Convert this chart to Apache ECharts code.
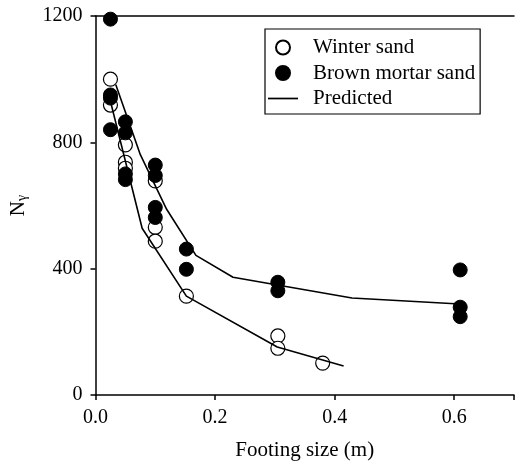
<!DOCTYPE html>
<html>
<head>
<meta charset="utf-8">
<script src="https://cdn.jsdelivr.net/npm/echarts@6/dist/echarts.min.js"></script>
<style>
  html, body { margin: 0; padding: 0; background: #fff; }
  #main { width: 517px; height: 466px; }
</style>
</head>
<body>
<div id="main"></div>
<script>
// measured points, [footing size (m), N_gamma]
const winterSand = [
  [0.025, 1000], [0.025, 918],
  [0.05, 792], [0.05, 737], [0.05, 718],
  [0.1, 678], [0.1, 531], [0.1, 487],
  [0.152, 313],
  [0.305, 187], [0.305, 148],
  [0.38, 101]
];
const brownMortarSand = [
  [0.025, 1190], [0.025, 950], [0.025, 940], [0.025, 840],
  [0.05, 865], [0.05, 830], [0.05, 700], [0.05, 682],
  [0.1, 728], [0.1, 695], [0.1, 594], [0.1, 562],
  [0.152, 462], [0.152, 398],
  [0.305, 357], [0.305, 330],
  [0.61, 396], [0.61, 278], [0.61, 248]
];
// predicted curves
const predictedBrown = [
  [0.034, 982], [0.075, 761], [0.119, 588], [0.168, 442],
  [0.23, 373], [0.429, 307], [0.609, 288]
];
const predictedWinter = [
  [0.025, 930], [0.078, 528], [0.152, 313], [0.304, 152], [0.415, 92]
];
const xTicks = [0, 0.2, 0.4, 0.6];
const yTicks = [0, 400, 800, 1200];

const font = 'Liberation Serif';
let chart = echarts.init(document.getElementById('main'));

chart.setOption({
  backgroundColor: '#fff',
  animation: false,
  textStyle: { fontFamily: font, color: '#000' },
  grid: { left: 94, top: 16, right: -6, bottom: 70 },
  legend: {
    orient: 'vertical',
    left: 265,
    top: 29,
    padding: [8, 5, 5, 3],
    borderColor: '#000',
    borderWidth: 1.2,
    itemWidth: 30,
    itemHeight: 14,
    itemGap: 4.5,
    textStyle: { fontFamily: font, fontSize: 21, color: '#000', padding: [0, 0, 0, 10] },
    data: [
      'Winter sand',
      'Brown mortar sand',
      { name: 'Predicted', icon: 'path://M0,0H28V1.6H0Z' }
    ]
  },
  xAxis: [{
    type: 'value',
    min: 0,
    max: 0.7,
    interval: 0.2,
    name: 'Footing size (m)',
    nameLocation: 'middle',
    nameGap: 45,
    nameTextStyle: { fontFamily: font, fontSize: 21, color: '#000' },
    axisLine: { lineStyle: { color: '#000', width: 1.5 } },
    axisTick: { show: true, length: 5, lineStyle: { color: '#000', width: 1.5 } },
    axisLabel: {
      fontFamily: font, fontSize: 20, color: '#000', margin: 13,
      formatter: v => xTicks.includes(+v.toFixed(2)) ? v.toFixed(1) : ''
    },
    splitLine: { show: false }
  }, {
    type: 'value',
    position: 'top',
    min: 0,
    max: 0.7,
    axisLine: { show: true, lineStyle: { color: '#000', width: 1.5 } },
    axisTick: { show: false },
    axisLabel: { show: false },
    splitLine: { show: false }
  }],
  yAxis: {
    type: 'value',
    min: 0,
    max: 1200,
    interval: 400,
    name: 'N{s|γ}',
    nameLocation: 'middle',
    nameRotate: 90,
    nameGap: 66,
    nameTextStyle: {
      fontFamily: font, fontSize: 21, color: '#000',
      rich: { s: { fontFamily: font, fontSize: 14, color: '#000', padding: [8, 0, 0, 0] } }
    },
    axisLine: { show: true, lineStyle: { color: '#000', width: 1.5 } },
    axisTick: { show: true, length: 5, lineStyle: { color: '#000', width: 1.5 } },
    axisLabel: {
      fontFamily: font, fontSize: 20, color: '#000', margin: 13,
      formatter: v => yTicks.includes(v) ? String(v) : ''
    },
    splitLine: { show: false }
  },
  series: [
    {
      name: 'Winter sand',
      type: 'scatter',
      symbol: 'circle',
      symbolSize: 14,
      itemStyle: { color: '#fff', borderColor: '#000', borderWidth: 1.2, opacity: 1 },
      data: winterSand,
      z: 2
    },
    {
      name: 'Brown mortar sand',
      type: 'scatter',
      symbol: 'circle',
      symbolSize: 14,
      itemStyle: { color: '#000', borderColor: '#000', borderWidth: 1, opacity: 1 },
      data: brownMortarSand,
      z: 3
    },
    {
      name: 'Predicted',
      type: 'line',
      symbol: 'none',
      lineStyle: { color: '#000', width: 1.6 },
      itemStyle: { color: '#000' },
      data: predictedBrown,
      z: 4
    },
    {
      name: 'Predicted',
      type: 'line',
      symbol: 'none',
      lineStyle: { color: '#000', width: 1.6 },
      itemStyle: { color: '#000' },
      data: predictedWinter,
      z: 4
    }
  ]
});
</script>
</body>
</html>
